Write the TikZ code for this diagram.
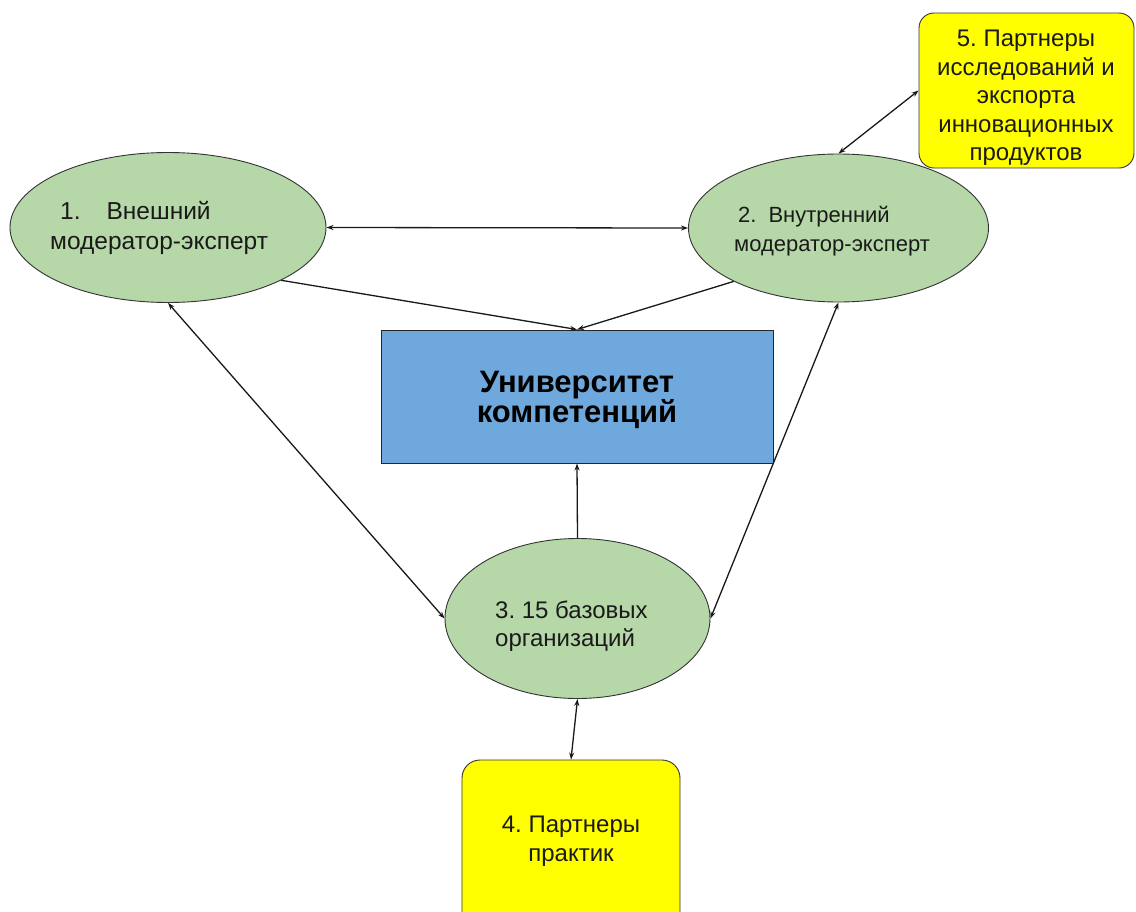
\documentclass[tikz,border=0pt]{standalone}
\usepackage{fontspec}
\setmainfont{Liberation Sans}
\usetikzlibrary{arrows.meta,shapes.geometric}
\frenchspacing
\definecolor{egreen}{HTML}{B6D7A8}
\definecolor{ublue}{HTML}{6FA8DC}
\definecolor{pyellow}{HTML}{FFFF00}
\definecolor{txt}{HTML}{1A1A1A}
\tikzset{
  oval/.style={ellipse, draw=black!80, line width=0.9pt, fill=egreen, inner sep=0pt},
  partner/.style={rectangle, rounded corners=18pt, draw=black!80, line width=0.9pt, fill=pyellow, inner sep=0pt},
  unibox/.style={rectangle, draw=black!85, line width=1pt, fill=ublue, inner sep=0pt},
  lbl/.style={text=txt, inner sep=0pt, font=\fontsize{24}{28.5}\selectfont},
  conn/.style={draw=black!90, line width=1.3pt, -{Stealth[length=7pt,width=5pt]}},
  bconn/.style={draw=black!90, line width=1.3pt, {Stealth[length=7pt,width=5pt]}-{Stealth[length=7pt,width=5pt]}}
}
\begin{document}
\begin{tikzpicture}[x=1pt,y=-1pt]
\useasboundingbox[fill=white] (0,0) rectangle (1136,911);
% shapes
\node[oval, minimum width=316pt, minimum height=150pt] (e1) at (168,227.5) {};
\node[oval, minimum width=300pt, minimum height=148pt] (e2) at (838.5,228) {};
\node[oval, minimum width=265pt, minimum height=160pt] (e3) at (577.5,618.5) {};
\node[unibox, minimum width=392pt, minimum height=133pt] (u) at (577,396.5) {};
\node[partner, minimum width=218pt, minimum height=180pt] (b4) at (571,850) {};
\node[partner, rounded corners=15pt, minimum width=215pt, minimum height=155pt] (b5) at (1026.5,90.5) {};
% texts
\node[lbl, anchor=west, align=left, font=\fontsize{24.5}{29.5}\selectfont] (t1) at (50,228) {\hspace*{10pt}1.\hspace{26pt}Внешний\\модератор-эксперт};
\node[lbl, anchor=west, align=left, font=\fontsize{22}{28.5}\selectfont] (t2) at (734,231) {\hspace*{4pt}2.\hspace{12pt}Внутренний\\модератор-эксперт};
\node[lbl, anchor=west, align=left] (t3) at (495,626) {3. 15 базовых\\организаций};
\node[lbl, align=center] (t4) at (571,841) {4. Партнеры\\практик};
\node[lbl, align=center] (t5) at (1026,98) {5. Партнеры\\исследований и\\экспорта\\инновационных\\продуктов};
\node[text=black, inner sep=0pt, align=center, font=\fontsize{31}{30}\bfseries\selectfont] (tu) at (577,400) {Университет\\компетенций};
% connectors
\draw[bconn] (e1.east) -- (e2.west);
\draw[conn] (e1.-25) -- (u.north);
\draw[conn] (e2.-153) -- (u.north);
\draw[conn] (e3.north) -- (u.south);
\draw[bconn] (e1.south) -- (e3.west);
\draw[bconn] (e2.south) -- (e3.east);
\draw[bconn] (e2.north) -- (b5.west);
\draw[bconn] (e3.south) -- (b4.north);
\end{tikzpicture}
\end{document}
